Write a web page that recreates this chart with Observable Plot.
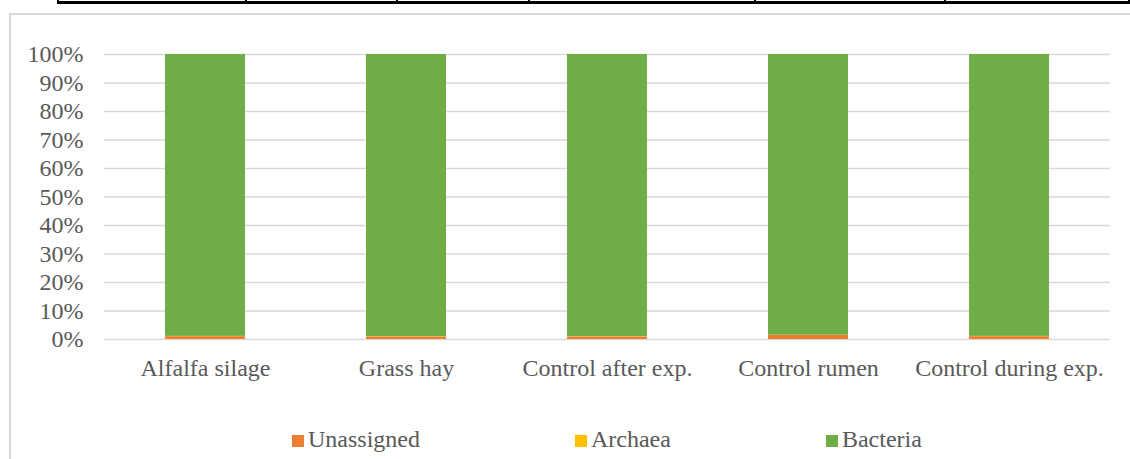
<!DOCTYPE html>
<html>
<head>
<meta charset="utf-8">
<script src="https://cdn.jsdelivr.net/npm/d3@7"></script>
<script src="https://cdn.jsdelivr.net/npm/@observablehq/plot@0.6"></script>
<style>
  html, body { margin: 0; padding: 0; background: #fff; overflow: hidden; }
  #page { position: relative; width: 1130px; height: 459px; overflow: hidden;
          font-family: "Liberation Serif", "Times New Roman", serif; color: #595959; }
  /* bottom rule of the table above the figure */
  #table-rule { position: absolute; left: 57px; top: 0px; width: 1073px; height: 4px; }
  #table-line { position: absolute; left: 0; top: 1px; width: 100%; height: 3px; background: #000; }
  .table-cell { position: absolute; top: 0; width: 1.5px; height: 3px; background: #000; }
  #frame { position: absolute; left: 9px; top: 13px; width: 1140px; height: 470px;
           border: 2px solid #d9d9d9; box-sizing: border-box; }
  #chart { position: absolute; left: 0; top: 0; }
  #legend { position: absolute; left: 292px; top: 426px; display: flex; gap: 155px;
            font-size: 24px; line-height: 27px; color: #595959; }
  .item { display: flex; align-items: center; white-space: nowrap; }
  .swatch { width: 12px; height: 12px; margin-right: 4px; margin-top: 3px; }
</style>
</head>
<body>
<div id="page">
  <div id="table-rule"><div id="table-line"></div></div>
  <div id="frame"></div>
  <div id="chart"></div>
  <div id="legend"></div>
</div>
<script>
// Sample groups along the x axis
const categories = ["Alfalfa silage", "Grass hay", "Control after exp.", "Control rumen", "Control during exp."];
// Taxonomic groups, stacked bottom to top
const taxa = ["Unassigned", "Archaea", "Bacteria"];
const taxaColors = ["#ED7D31", "#FFC000", "#70AD47"];
// Relative abundance per sample (fractions of 1)
const unassigned = [0.010, 0.009, 0.009, 0.014, 0.010];
const archaea    = [0.001, 0.001, 0.001, 0.001, 0.001];
const bacteria   = [0.989, 0.990, 0.990, 0.985, 0.989];
// Y axis tick values
const yTicks = [0, 0.1, 0.2, 0.3, 0.4, 0.5, 0.6, 0.7, 0.8, 0.9, 1.0];
// Table column dividers above the figure
const tableDividers = [0, 188, 339, 471, 697, 887, 1071];

const seriesByTaxon = {Unassigned: unassigned, Archaea: archaea, Bacteria: bacteria};
const rows = [];
categories.forEach((category, i) => {
  taxa.forEach(taxon => rows.push({category, taxon, value: seriesByTaxon[taxon][i]}));
});

const rule = document.getElementById("table-rule");
tableDividers.forEach(x => {
  const d = document.createElement("div");
  d.className = "table-cell";
  d.style.left = x + "px";
  rule.appendChild(d);
});

const font = "Liberation Serif, Times New Roman, serif";

const chart = Plot.plot({
  width: 1130,
  height: 400,
  marginLeft: 104,
  marginRight: 20,
  marginTop: 54,
  marginBottom: 61,
  style: {fontFamily: font, fontSize: "24px", color: "#595959", background: "transparent", overflow: "visible"},
  x: {domain: categories, paddingInner: 0.6, paddingOuter: 0.3, label: null},
  y: {domain: [0, 1], label: null},
  color: {domain: taxa, range: taxaColors},
  marks: [
    Plot.gridY(yTicks, {stroke: "#d9d9d9", strokeOpacity: 1, strokeWidth: 1.5}),
    Plot.barY(rows, {x: "category", y: "value", fill: "taxon", order: taxa}),
    Plot.axisY(yTicks, {tickSize: 0, tickPadding: 21, tickFormat: d3.format(".0%"),
                        fontSize: 24, fill: "#595959", label: null}),
    Plot.axisX({tickSize: 0, tickPadding: 19, fontSize: 24, fill: "#595959", label: null})
  ]
});
document.getElementById("chart").appendChild(chart);

// Legend below the plot
const legend = document.getElementById("legend");
taxa.forEach((taxon, i) => {
  const item = document.createElement("div");
  item.className = "item";
  const sw = document.createElement("span");
  sw.className = "swatch";
  sw.style.background = taxaColors[i];
  const label = document.createElement("span");
  label.textContent = taxon;
  item.appendChild(sw);
  item.appendChild(label);
  legend.appendChild(item);
});
</script>
</body>
</html>
